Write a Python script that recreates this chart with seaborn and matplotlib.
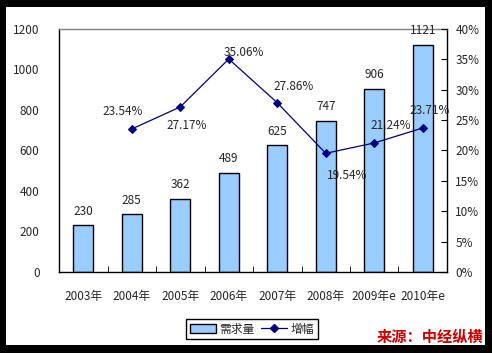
import matplotlib
matplotlib.use("Agg")
import matplotlib.pyplot as plt
import matplotlib.patches as mpatches
from matplotlib.lines import Line2D
import numpy as np
import pandas as pd
import seaborn as sns

years = ["2003年", "2004年", "2005年", "2006年", "2007年", "2008年", "2009年e", "2010年e"]
demand = [230, 285, 362, 489, 625, 747, 906, 1121]
growth_years = ["2004年", "2005年", "2006年", "2007年", "2008年", "2009年e", "2010年e"]
growth = [23.54, 27.17, 35.06, 27.86, 19.54, 21.24, 23.71]

sns.set_style("white")
plt.rcParams["font.family"] = ["Noto Sans CJK SC", "DejaVu Sans"]
plt.rcParams["font.size"] = 8.5

BAR = "#99CCFF"
LINE = "#000080"

fig = plt.figure(figsize=(4.92, 3.53), dpi=100, facecolor="black")
# white inner panel inside black frame
fig.patches.append(mpatches.Rectangle((6 / 492, 8 / 353), 479 / 492, 338 / 353,
                                      transform=fig.transFigure, facecolor="white",
                                      edgecolor="none", zorder=-5))
ax = fig.add_axes([59 / 492, 1 - 272 / 353, 388 / 492, 243 / 353])
ax.set_facecolor("white")

df = pd.DataFrame({"year": years, "demand": demand})
sns.barplot(data=df, x="year", y="demand", color=BAR, edgecolor="black",
            linewidth=1.0, width=0.42, saturation=1, ax=ax)
ax.set_xlim(-0.5, 7.5)
ax.set_ylim(0, 1200)
ax.set_yticks(range(0, 1201, 200))
ax.set_xlabel("")
ax.set_ylabel("")
ax.tick_params(axis="x", length=0, pad=13)
ax.tick_params(axis="y", length=0, pad=14)
ax.set_xticks(np.arange(-0.5, 8, 1), minor=True)
ax.tick_params(axis="x", which="minor", direction="in", length=4, color="black", bottom=True)
for v, lab in zip(range(len(demand)), demand):
    ax.annotate(str(lab), (v, lab), textcoords="offset pixels", xytext=(0, 14),
                ha="center", va="center")

for s in ["left", "bottom", "right"]:
    ax.spines[s].set_color("black")
    ax.spines[s].set_linewidth(1.0)
ax.spines["top"].set_color("#808080")
ax.spines["top"].set_linewidth(1.0)

ax2 = ax.twinx()
gdf = pd.DataFrame({"pos": [years.index(y) for y in growth_years], "growth": growth})
sns.lineplot(data=gdf, x="pos", y="growth", color=LINE, marker="D", markersize=4,
             markeredgecolor=LINE, linewidth=0.9, ax=ax2)
ax2.set_ylim(0, 40)
ax2.set_yticks(range(0, 41, 5))
ax2.set_yticklabels([f"{v}%" for v in range(0, 41, 5)])
ax2.set_ylabel("")
ax2.set_xlabel("")
ax2.tick_params(axis="y", direction="in", length=4, pad=6, color="black")
for s in ["left", "bottom", "right", "top"]:
    ax2.spines[s].set_visible(False)

offsets = [(-9, 17), (6, -19), (15, 7), (16, 16), (21, -22), (16, 17), (7, 17)]
for p, g, off in zip(gdf["pos"], growth, offsets):
    ax2.annotate(f"{g:.2f}%", (p, g), textcoords="offset pixels", xytext=off,
                 ha="center", va="center")

handles = [mpatches.Patch(facecolor=BAR, edgecolor="black", linewidth=1.0),
           Line2D([], [], color=LINE, marker="D", markersize=4, linewidth=0.9)]
fig.legend(handles, ["需求量", "增幅"], loc="center", bbox_to_anchor=(252 / 492, 1 - 329 / 353),
           ncol=2, frameon=True, fancybox=False, edgecolor="black", framealpha=1,
           handlelength=2.2, handletextpad=0.3, columnspacing=0.6, borderpad=0.3)

fig.text(430 / 492, 1 - 337 / 353, "来源：中经纵横", color="#D00000", fontsize=11,
         fontweight="bold", ha="center", va="center")

fig.savefig("out.png", dpi=100, facecolor=fig.get_facecolor())
